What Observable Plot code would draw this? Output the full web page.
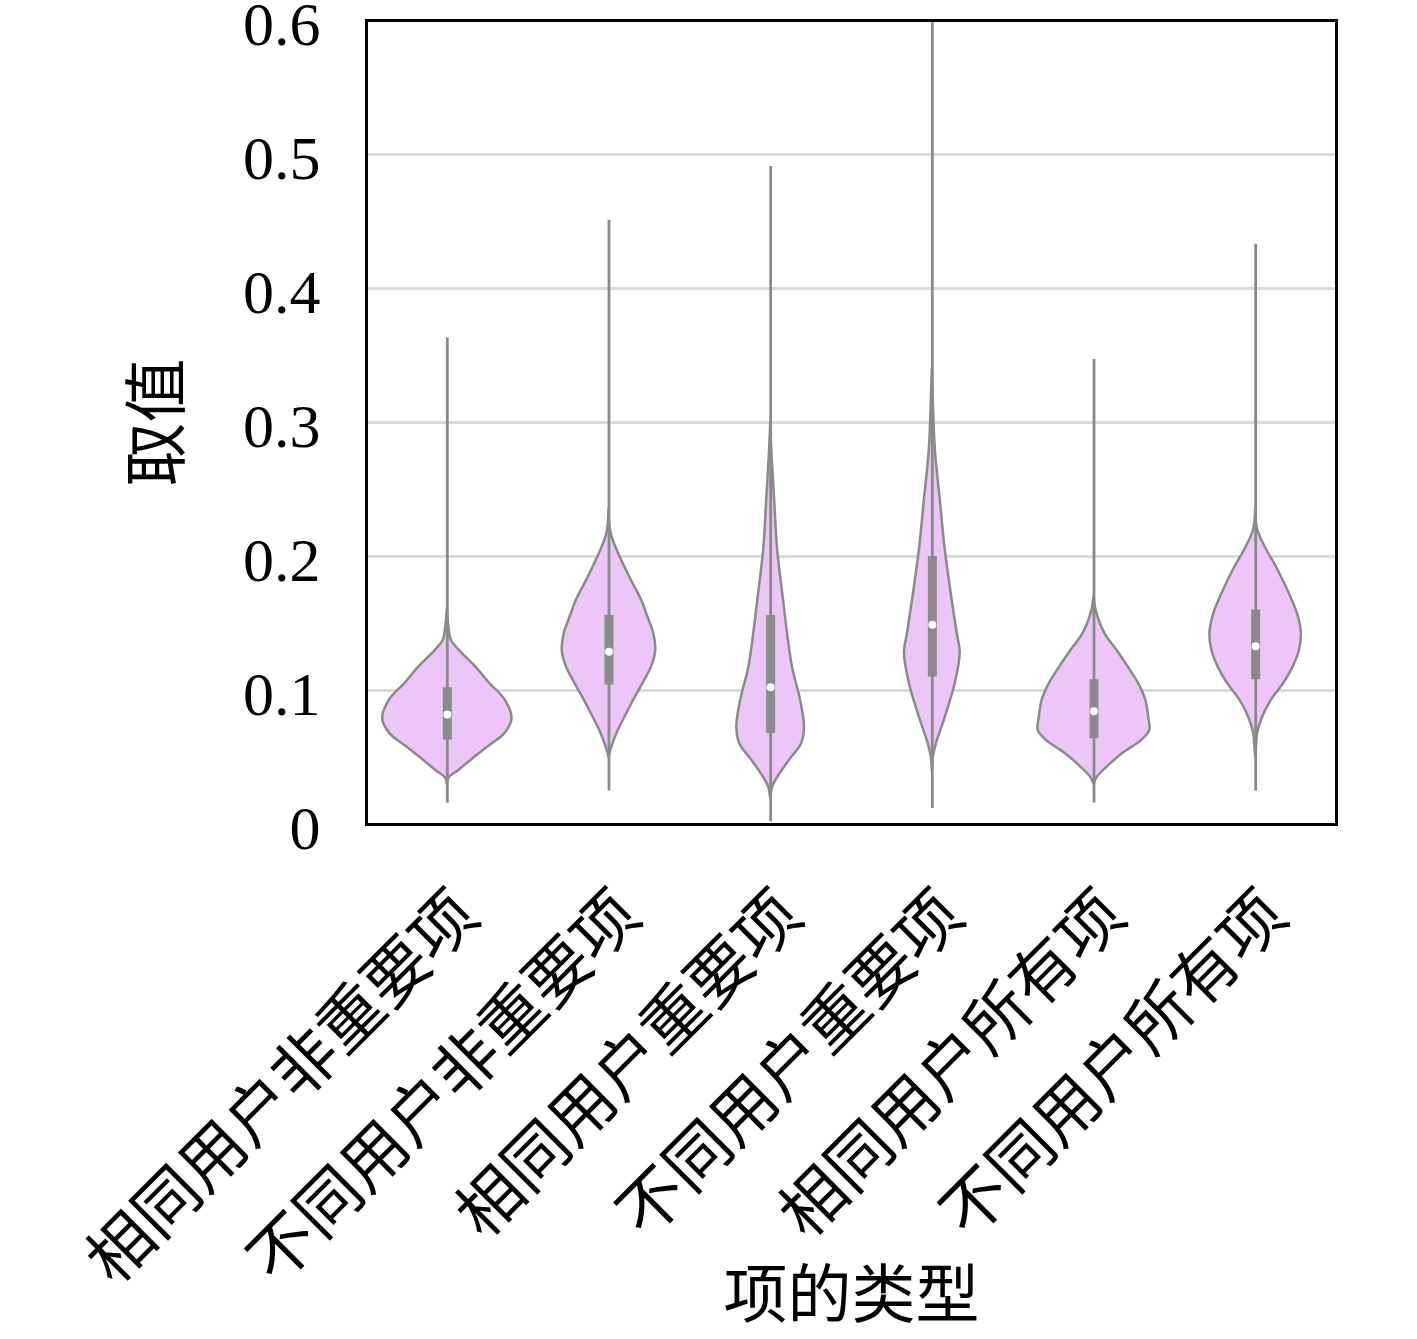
<!DOCTYPE html>
<html>
<head>
<meta charset="utf-8">
<script src="https://cdn.jsdelivr.net/npm/d3@7"></script>
<script src="https://cdn.jsdelivr.net/npm/@observablehq/plot@0.6"></script>
<style>
  html, body { margin: 0; padding: 0; background: white; }
</style>
</head>
<body>
<div id="chart"></div>
<script>
// Categories (x axis)
const categories = ["相同用户非重要项", "不同用户非重要项", "相同用户重要项", "不同用户重要项", "相同用户所有项", "不同用户所有项"];

// Box / whisker statistics per category
const minValues    = [0.016, 0.025, 0.002, 0.012, 0.016, 0.025];
const maxValues    = [0.363, 0.451, 0.491, 0.600, 0.347, 0.433];
const q1Values     = [0.063, 0.104, 0.068, 0.110, 0.064, 0.108];
const medianValues = [0.082, 0.129, 0.1025, 0.149, 0.0845, 0.133];
const q3Values     = [0.102, 0.156, 0.156, 0.200, 0.108, 0.160];

// Density profiles per category: [value, relative density]
const density1 = [[0.030,0],[0.035,2],[0.040,11],[0.048,24],[0.058,41],[0.068,58],[0.079,65],[0.093,58],[0.105,43],[0.118,28],[0.130,12],[0.1375,4],[0.145,2],[0.160,0]];
const density2 = [[0.050,0],[0.058,3],[0.068,8],[0.080,16],[0.093,25],[0.105,34],[0.118,43],[0.130,47],[0.1425,45],[0.155,39],[0.167,33],[0.180,24],[0.192,16],[0.205,8],[0.2175,2],[0.235,0]];
const density3 = [[0.020,0],[0.028,2],[0.035,7],[0.048,19],[0.060,31],[0.0725,34],[0.093,30],[0.117,22],[0.1425,17],[0.167,13],[0.205,7],[0.242,4],[0.280,1],[0.300,0]];
const density4 = [[0.040,0],[0.050,1],[0.060,4],[0.080,13],[0.105,23],[0.128,28],[0.1425,25],[0.167,20],[0.205,13],[0.242,8],[0.280,3],[0.317,1],[0.340,0]];
const density5 = [[0.030,0],[0.035,3],[0.0427,13],[0.053,29],[0.0628,48],[0.070,56],[0.080,55],[0.093,52],[0.105,45],[0.118,34],[0.130,23],[0.1425,11],[0.160,2],[0.170,0]];
const density6 = [[0.050,0],[0.060,1],[0.068,2],[0.080,7],[0.093,16],[0.105,28],[0.118,38],[0.130,44],[0.1425,46],[0.155,43],[0.167,37],[0.180,29],[0.192,21],[0.205,11],[0.220,2],[0.235,0]];

// Y tick values
const yTicks = [0, 0.1, 0.2, 0.3, 0.4, 0.5, 0.6];
const yTickLabels = ["0", "0.1", "0.2", "0.3", "0.4", "0.5", "0.6"];
const gridValues = [0.1, 0.2, 0.3, 0.4, 0.5];

const densities = [density1, density2, density3, density4, density5, density6];
const maxDensity = d3.max(densities.flat(), d => d[1]);
const halfBand = 0.4; // widest violin half-width in band units

const violinRows = densities.flatMap((prof, i) =>
  prof.map(([v, d]) => ({
    cat: i, v,
    x1: i - d / maxDensity * halfBand,
    x2: i + d / maxDensity * halfBand
  }))
);

const stats = categories.map((c, i) => ({
  i, min: minValues[i], max: maxValues[i],
  q1: q1Values[i], med: medianValues[i], q3: q3Values[i]
}));

const gray = "#8a8a8a";

const chart = Plot.plot({
  width: 1417,
  height: 1339,
  marginLeft: 366,
  marginRight: 81,
  marginTop: 20,
  marginBottom: 515,
  x: {domain: [-0.5, categories.length - 0.5]},
  y: {domain: [0, 0.6]},
  style: {fontFamily: "'Noto Sans CJK SC', sans-serif", background: "white", color: "black"},
  marks: [
    Plot.ruleY(gridValues, {stroke: "#dadada", strokeWidth: 3}),
    Plot.areaX(violinRows, {y: "v", x1: "x1", x2: "x2", z: "cat", fill: "#edc6f8", stroke: gray, strokeWidth: 2.5, curve: "catmull-rom"}),
    Plot.ruleX(stats, {x: "i", y1: "min", y2: "max", stroke: gray, strokeWidth: 2.8}),
    Plot.ruleX(stats, {x: "i", y1: "q1", y2: "q3", stroke: gray, strokeWidth: 9}),
    Plot.dot(stats, {x: "i", y: "med", r: 4, fill: "white"}),
    Plot.frame({stroke: "black", strokeWidth: 3}),
    Plot.axisY({
      ticks: yTicks,
      tickFormat: (d) => yTickLabels[yTicks.indexOf(d)],
      tickSize: 0, tickPadding: 46, dy: 5,
      fontSize: 62, fontFamily: "'Liberation Serif', serif",
      label: null
    }),
    Plot.axisX({
      ticks: d3.range(categories.length),
      tickFormat: i => categories[i],
      tickRotate: -45, tickSize: 0, tickPadding: 80, dx: 20,
      fontSize: 65, label: null
    }),
    Plot.text(["项的类型"], {frameAnchor: "bottom", dy: 472, fontSize: 64, lineAnchor: "middle", textAnchor: "middle", text: d => d}),
    Plot.text(["取值"], {frameAnchor: "left", dx: -208, rotate: -90, fontSize: 64, lineAnchor: "middle", textAnchor: "middle", text: d => d})
  ]
});

document.getElementById("chart").appendChild(chart);
</script>
</body>
</html>
